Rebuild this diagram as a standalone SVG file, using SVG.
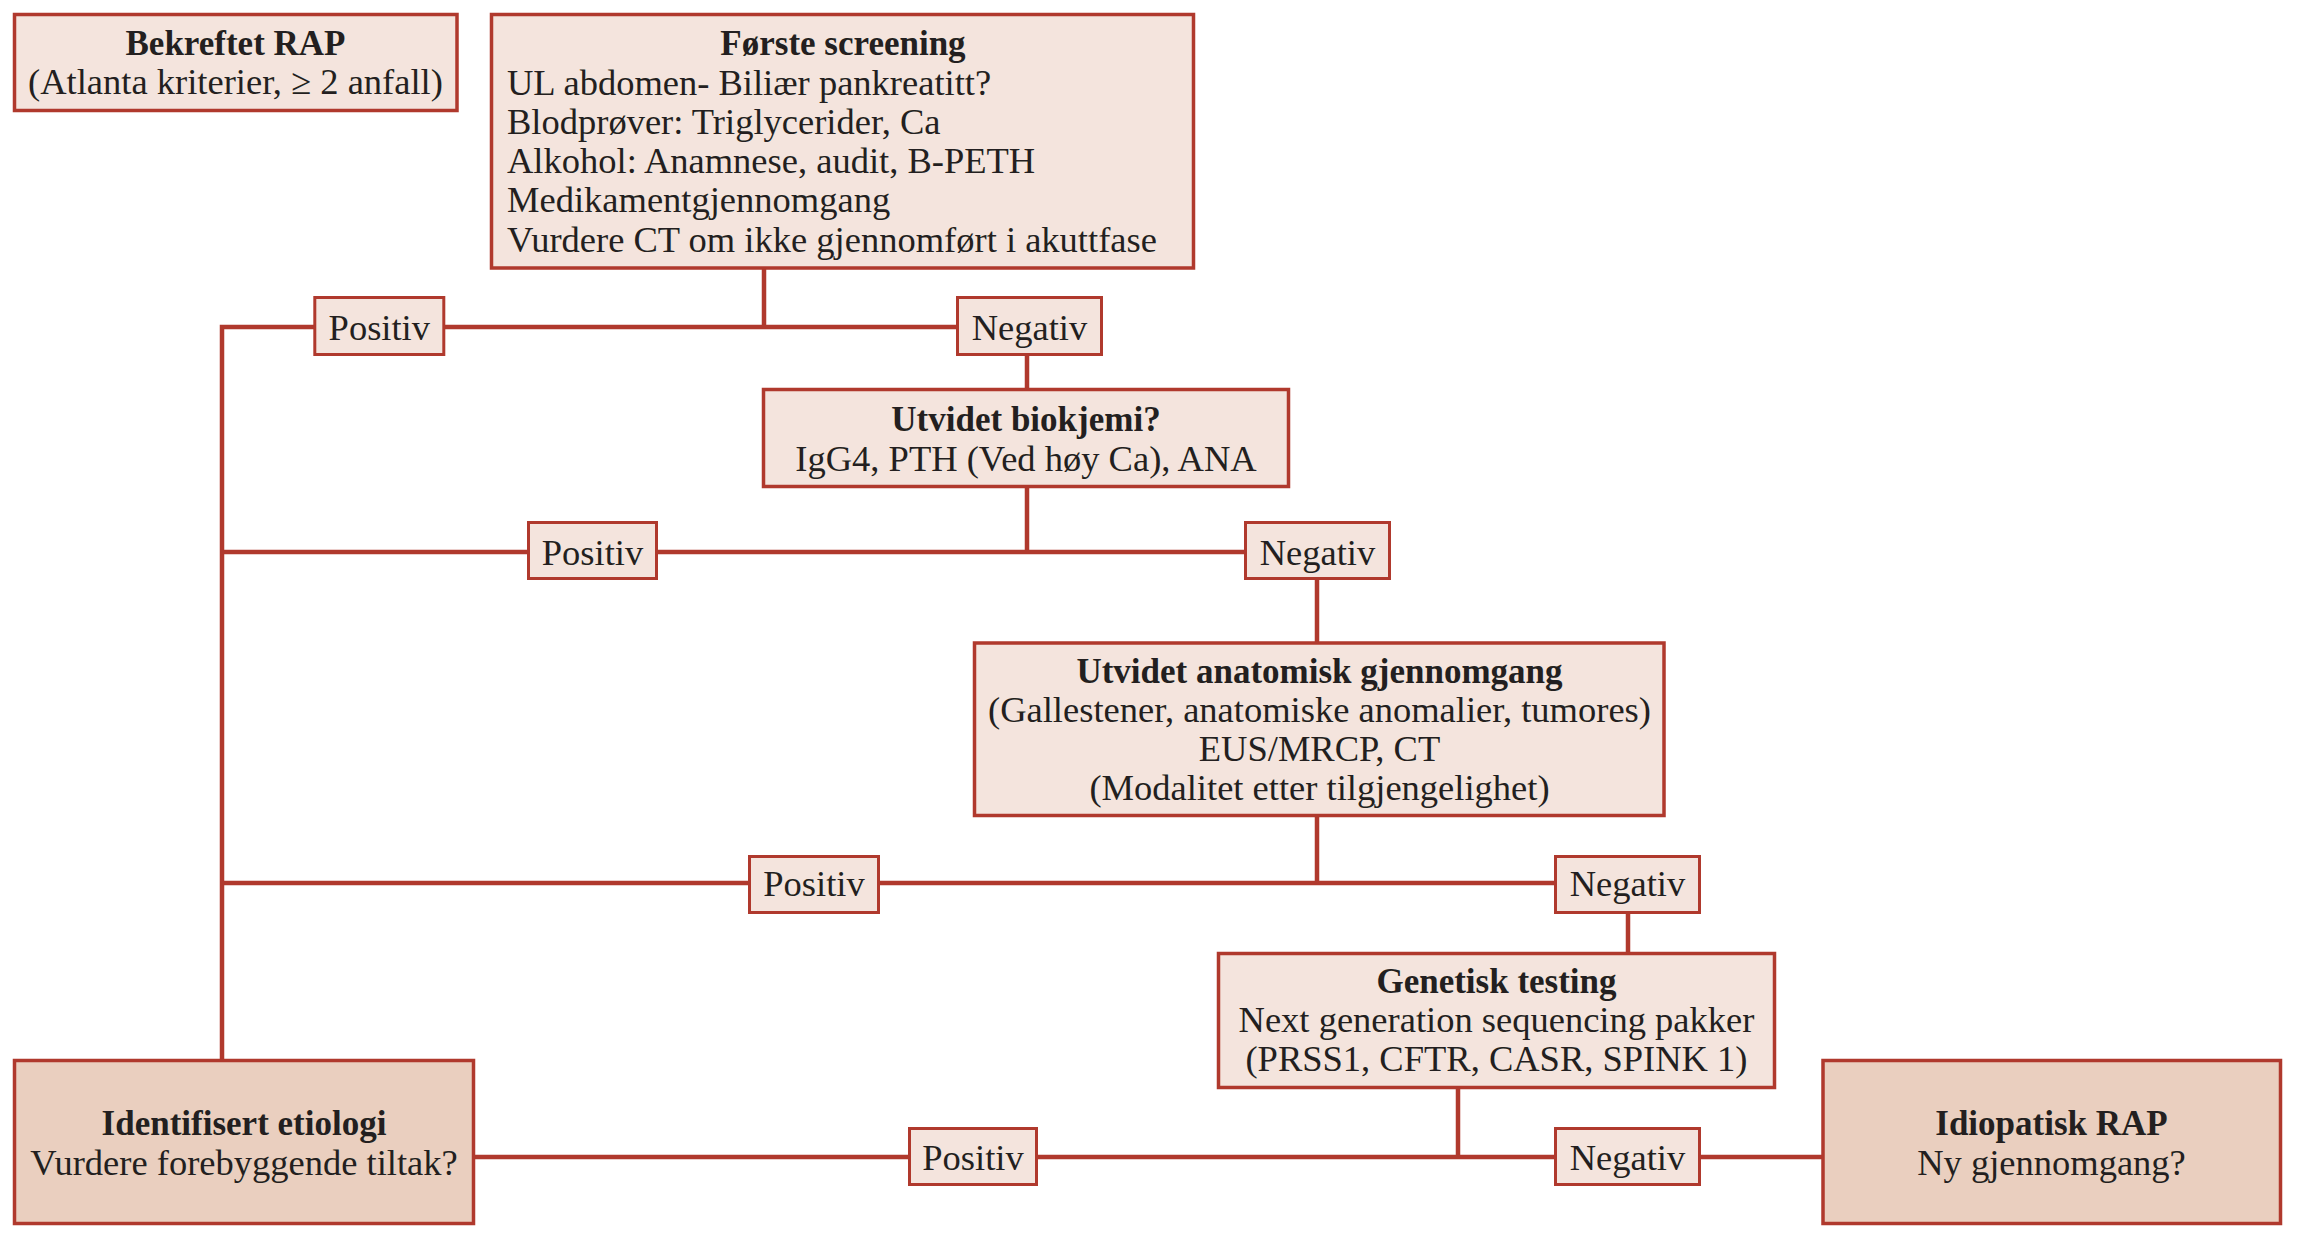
<svg xmlns="http://www.w3.org/2000/svg" width="2300" height="1240" viewBox="0 0 2300 1240">
<style>
.box{fill:#F4E4DD;stroke:#B0392D;stroke-width:3.5}
.end{fill:#EACFBF;stroke:#B0392D;stroke-width:3.5}
.lbl{fill:#F4E4DD;stroke:#B0392D;stroke-width:3}
.con{fill:none;stroke:#B0392D;stroke-width:4.5;stroke-linecap:butt;stroke-linejoin:miter}
text{font-family:"Liberation Serif","Times New Roman",serif;font-size:36.5px;fill:#231F20}
.c{text-anchor:middle}
.b{font-weight:bold;font-size:35px}
</style>
<rect width="2300" height="1240" fill="#FFFFFF"/>
<g id="connectors">
<path class="con" d="M764 268V327M222 327H957M222 324.75V1060.5"/>
<path class="con" d="M1027 355V389.5M1027 486.5V552M222 552H1245.5"/>
<path class="con" d="M1317 578.5V643M1317 815.5V883M222 883H1555.5"/>
<path class="con" d="M1628 912.5V953.5M1458 1087.5V1157M473.5 1157H1823"/>
</g>
<g id="bekreftet">
<rect class="box" x="14.5" y="14.5" width="442.5" height="96"/>
<text class="c b" x="235.5" y="55">Bekreftet RAP</text>
<text class="c" x="235.5" y="94">(Atlanta kriterier, ≥ 2 anfall)</text>
</g>
<g id="screening">
<rect class="box" x="491.5" y="14.5" width="702" height="253.5"/>
<text class="c b" x="843" y="55">Første screening</text>
<text x="507" y="95">UL abdomen- Biliær pankreatitt?</text>
<text x="507" y="134">Blodprøver: Triglycerider, Ca</text>
<text x="507" y="173">Alkohol: Anamnese, audit, B-PETH</text>
<text x="507" y="212">Medikamentgjennomgang</text>
<text x="507" y="252">Vurdere CT om ikke gjennomført i akuttfase</text>
</g>
<g id="pos1"><rect class="lbl" x="314.8" y="297.5" width="129" height="57"/><text class="c" x="379.3" y="340">Positiv</text></g>
<g id="neg1"><rect class="lbl" x="957.5" y="297.5" width="144" height="57"/><text class="c" x="1029.5" y="340">Negativ</text></g>
<g id="biokjemi">
<rect class="box" x="763.5" y="389.5" width="525" height="97"/>
<text class="c b" x="1026" y="431">Utvidet biokjemi?</text>
<text class="c" x="1026" y="471">IgG4, PTH (Ved høy Ca), ANA</text>
</g>
<g id="pos2"><rect class="lbl" x="528.5" y="522.5" width="128" height="56"/><text class="c" x="592.5" y="565">Positiv</text></g>
<g id="neg2"><rect class="lbl" x="1245.5" y="522.5" width="144" height="56"/><text class="c" x="1317.5" y="565">Negativ</text></g>
<g id="anatomisk">
<rect class="box" x="974.5" y="643" width="689.5" height="172.5"/>
<text class="c b" x="1319.5" y="683">Utvidet anatomisk gjennomgang</text>
<text class="c" x="1319.5" y="722">(Gallestener, anatomiske anomalier, tumores)</text>
<text class="c" x="1319.5" y="761">EUS/MRCP, CT</text>
<text class="c" x="1319.5" y="800">(Modalitet etter tilgjengelighet)</text>
</g>
<g id="pos3"><rect class="lbl" x="749.5" y="856.5" width="129" height="56"/><text class="c" x="814" y="896">Positiv</text></g>
<g id="neg3"><rect class="lbl" x="1555.5" y="856.5" width="144" height="56"/><text class="c" x="1627.5" y="896">Negativ</text></g>
<g id="genetisk">
<rect class="box" x="1218.5" y="953.5" width="556" height="134"/>
<text class="c b" x="1496.5" y="993">Genetisk testing</text>
<text class="c" x="1496.5" y="1032">Next generation sequencing pakker</text>
<text class="c" x="1496.5" y="1071">(PRSS1, CFTR, CASR, SPINK 1)</text>
</g>
<g id="pos4"><rect class="lbl" x="909.5" y="1128.5" width="127" height="56"/><text class="c" x="973" y="1170">Positiv</text></g>
<g id="neg4"><rect class="lbl" x="1555.5" y="1128.5" width="144" height="56"/><text class="c" x="1627.5" y="1170">Negativ</text></g>
<g id="identifisert">
<rect class="end" x="14.5" y="1060.5" width="459" height="163"/>
<text class="c b" x="244" y="1135">Identifisert etiologi</text>
<text class="c" x="244" y="1175">Vurdere forebyggende tiltak?</text>
</g>
<g id="idiopatisk">
<rect class="end" x="1823" y="1060.5" width="457.5" height="163"/>
<text class="c b" x="2051.5" y="1135">Idiopatisk RAP</text>
<text class="c" x="2051.5" y="1175">Ny gjennomgang?</text>
</g>
</svg>
